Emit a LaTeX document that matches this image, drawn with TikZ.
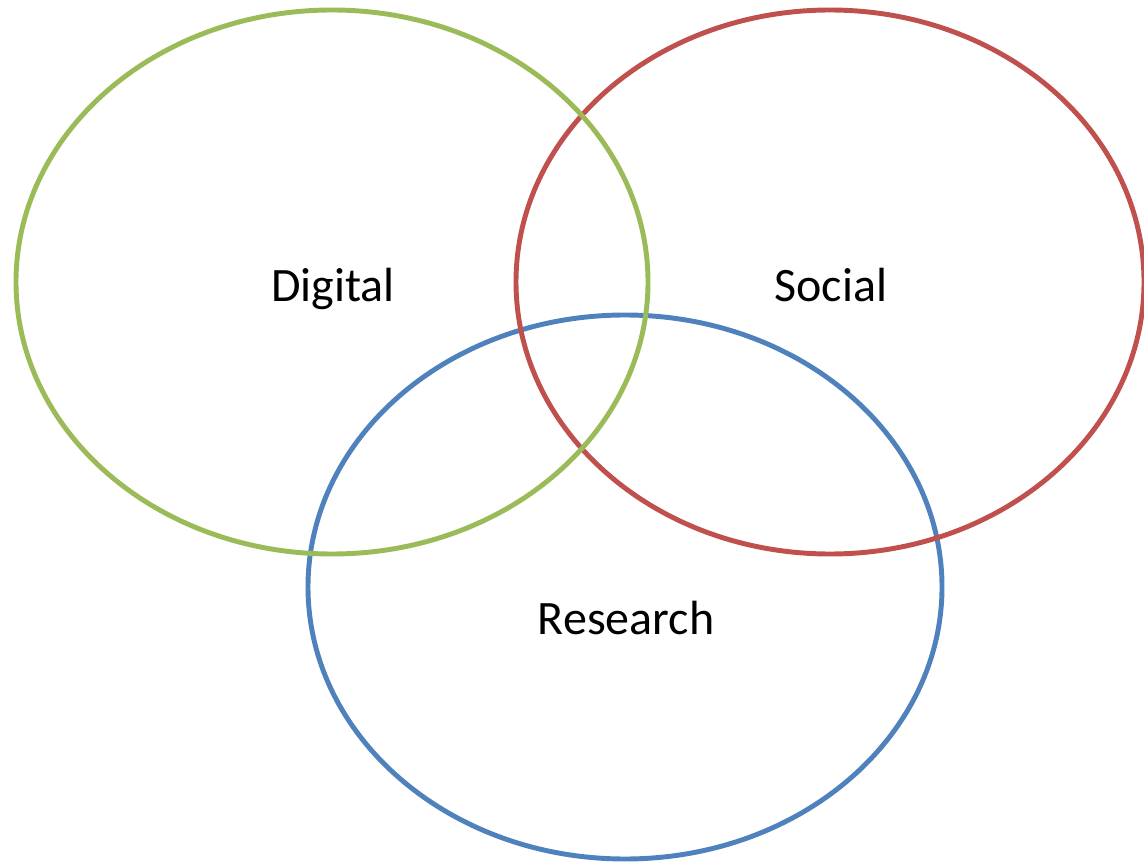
\documentclass[tikz,border=0pt]{standalone}
\usepackage{fontspec}
\setmainfont{Carlito}
\usepackage{tikz}

\definecolor{digitalgreen}{HTML}{9BBB59}
\definecolor{socialred}{HTML}{C0504D}
\definecolor{researchblue}{HTML}{4F81BD}

\tikzset{
  ring/.style={line width=3.7pt},
  label/.style={anchor=base, font=\fontsize{36}{42}\selectfont}
}

\begin{document}
\begin{tikzpicture}[x=0.75pt, y=-0.75pt]
	%%%%% FRAME %%%%%
	\useasboundingbox (0, 0) rectangle (1144, 862);
	
	%%%%% RINGS %%%%%
	\draw[ring, color=researchblue] (625, 587) ellipse (317 and 272);
	\draw[ring, color=socialred] (830, 282) ellipse (314 and 272);
	\draw[ring, color=digitalgreen] (332, 282) ellipse (316 and 272);
	
	%%%%% LABELS %%%%%
	\node[label] (digital) at (333, 302) {Digital};
	\node[label] (social) at (831, 302) {Social};
	\node[label] (research) at (626, 634) {Research};
\end{tikzpicture}
\end{document}
